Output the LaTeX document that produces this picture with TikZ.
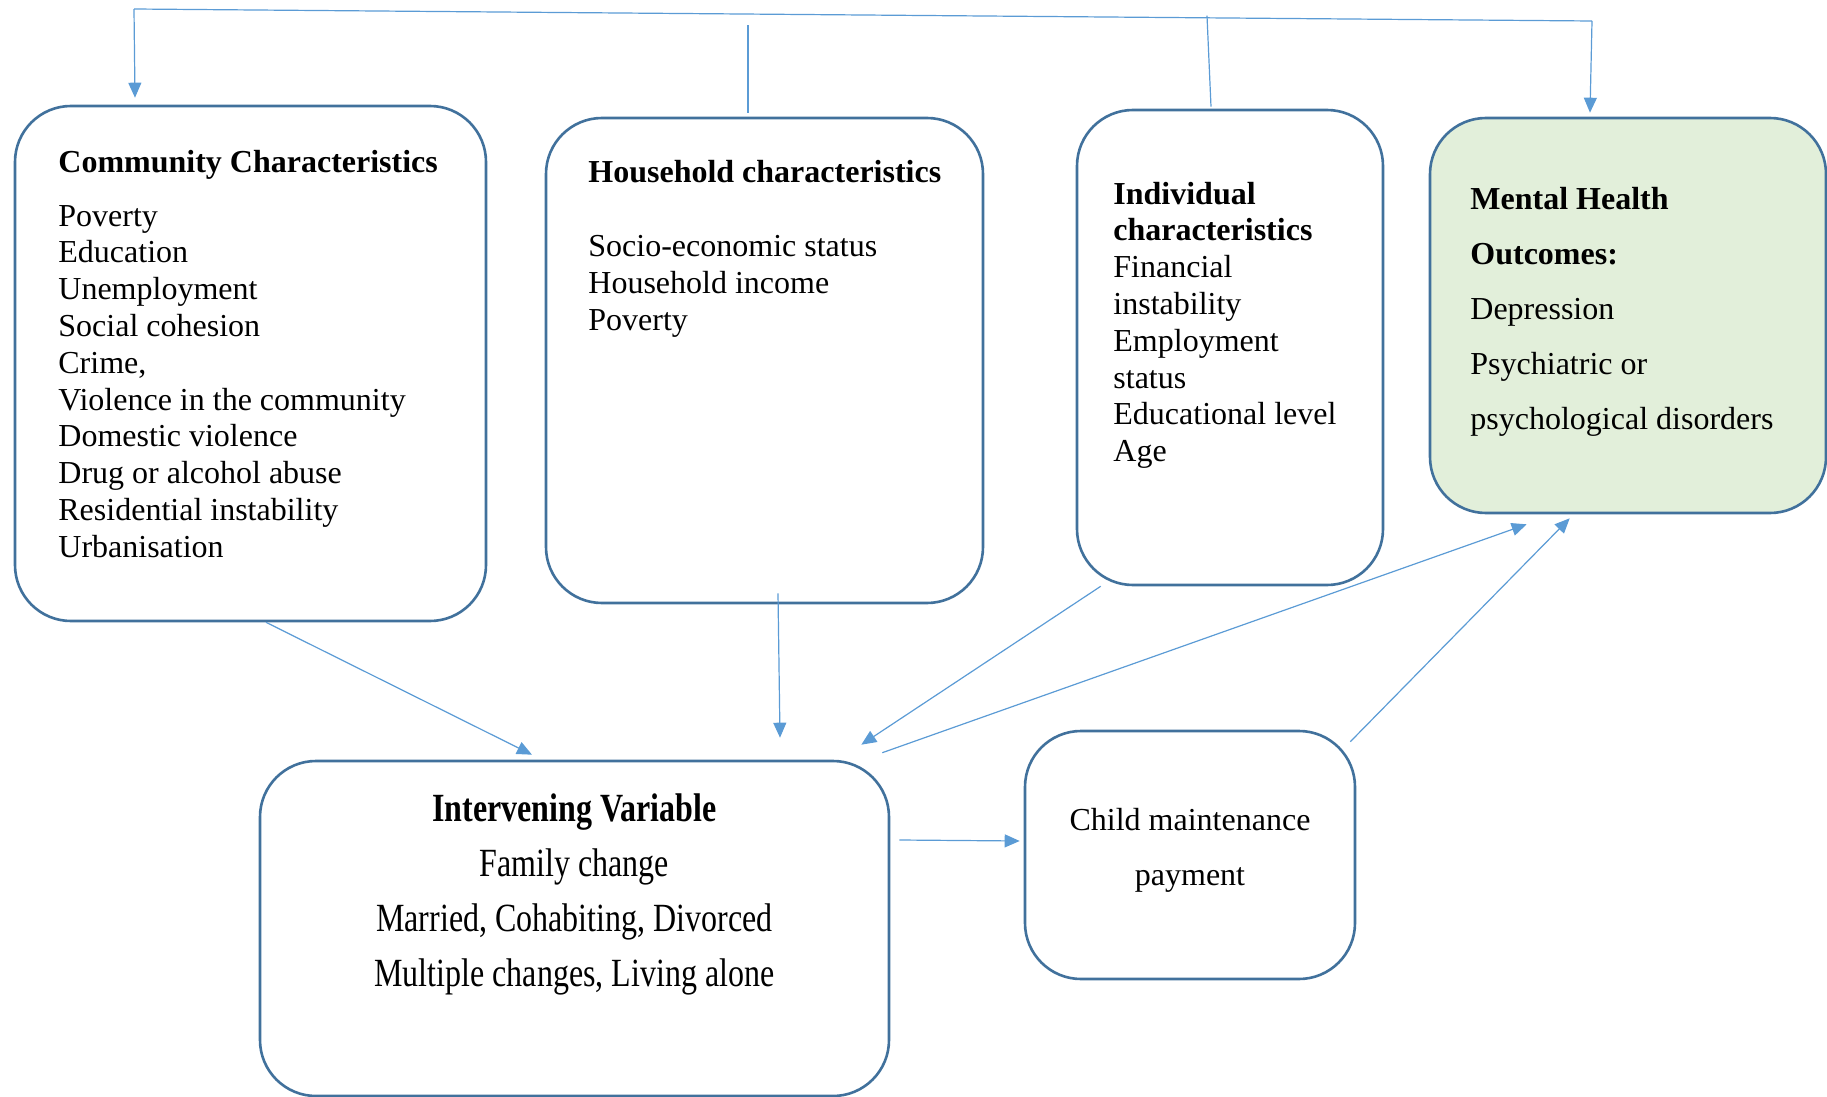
\documentclass[tikz,border=0pt]{standalone}
\usepackage{fontspec}
\setmainfont{Liberation Serif}
\newfontfamily\narrowserif[FakeStretch=0.8]{Liberation Serif}
\usepackage{tikz}
\usetikzlibrary{arrows.meta}

\definecolor{boxblue}{HTML}{41719C}
\definecolor{linkblue}{HTML}{5B9BD5}
\definecolor{mhgreen}{HTML}{E2EFDA}

\tikzset{
    box/.style={draw=boxblue, line width=1.3pt, rounded corners=28pt, inner sep=0pt},
    link/.style={draw=linkblue, line width=0.6pt},
    arr/.style={link, -{Triangle[length=7.5pt, width=6.5pt]}},
    boxtext/.style={inner sep=0pt, anchor=north west, align=left,
        font=\fontsize{16pt}{18.4pt}\selectfont},
    widetext/.style={inner sep=0pt, anchor=north west, align=left,
        font=\fontsize{16pt}{27.5pt}\selectfont}
}

\begin{document}
\begin{tikzpicture}[x=0.5pt, y=-0.5pt]
        \useasboundingbox (0,0) rectangle (1827,1097);

        % Boxes
        \node[box, minimum width=235.5pt, minimum height=257.5pt] (comm) at (250.5,363.5) {};
        \node[box, minimum width=218.5pt, minimum height=242.5pt] (hh) at (764.5,360.5) {};
        \node[box, minimum width=153pt, minimum height=237.5pt] (ind) at (1230,347.5) {};
        \node[box, fill=mhgreen, minimum width=198pt, minimum height=197.5pt] (mh) at (1628,315.5) {};
        \node[box, minimum width=314.5pt, minimum height=167.5pt] (interv) at (574.5,928.5) {};
        \node[box, minimum width=165pt, minimum height=124pt] (child) at (1190,855) {};

        % Texts in the boxes
        \node[boxtext] (commtext) at (58,149.5) {\textbf{Community Characteristics}\\[8.6pt]
            Poverty\\Education\\Unemployment\\Social cohesion\\Crime,\\
            Violence in the community\\Domestic violence\\Drug or alcohol abuse\\
            Residential instability\\Urbanisation};
        \node[boxtext] (hhtext) at (588,159.5) {\textbf{Household characteristics}\\[19pt]
            Socio-economic status\\Household income\\Poverty};
        \node[boxtext] (indtext) at (1113,181.5) {\textbf{Individual}\\\textbf{characteristics}\\
            Financial\\instability\\Employment\\status\\Educational level\\Age};
        \node[widetext] (mhtext) at (1470,186.5) {\textbf{Mental Health}\\\textbf{Outcomes:}\\
            Depression\\Psychiatric or\\psychological disorders};
        \node[inner sep=0pt, anchor=north, align=center,
            font=\narrowserif\fontsize{20pt}{27.5pt}\selectfont] (intervtext) at (574.5,793)
            {\textbf{Intervening Variable}\\Family change\\Married, Cohabiting, Divorced\\
            Multiple changes, Living alone};
        \node[inner sep=0pt, anchor=north, align=center,
            font=\fontsize{16pt}{27.5pt}\selectfont] (childtext) at (1190,808)
            {Child maintenance\\payment};

        % Top line over the boxes
        \coordinate (topL) at (134,9);
        \coordinate (topR) at (1592,21);
        \draw[link] (topL) -- (topR);
        \draw[arr] (topL) -- ([xshift=-57.75pt, yshift=3.5pt]comm.north);
        \draw[link] ([xshift=-8.25pt, yshift=2pt]hh.north) -- ++(0,-88);
        \draw[link] ([xshift=-9.5pt, yshift=1pt]ind.north) -- ++(-4,-91);
        \draw[arr] (topR) -- ([xshift=-19pt, yshift=2pt]mh.north);

        % Arrows into the intervening variable
        \draw[arr] ([xshift=7.75pt]comm.south) -- ([xshift=-21.25pt, yshift=2.5pt]interv.north);
        \draw[arr] ([xshift=6.75pt, yshift=5.5pt]hh.south) -- ([xshift=102.75pt, yshift=11pt]interv.north);
        \draw[arr] ([xshift=12.5pt]ind.south west) -- ([xshift=-14.5pt, yshift=7.5pt]interv.north east);

        % Arrows to the outcomes
        \draw[arr] ([xshift=-4pt, yshift=3.5pt]interv.north east) -- ([xshift=49pt, yshift=-5pt]mh.south west);
        \draw[arr] ([xshift=4.5pt, yshift=44.25pt]interv.east) -- ([xshift=-2pt, yshift=7pt]child.west);
        \draw[arr] ([xshift=-3pt, yshift=-6pt]child.north east) -- ([xshift=70.5pt, yshift=-2pt]mh.south west);

    \end{tikzpicture}
\end{document}
